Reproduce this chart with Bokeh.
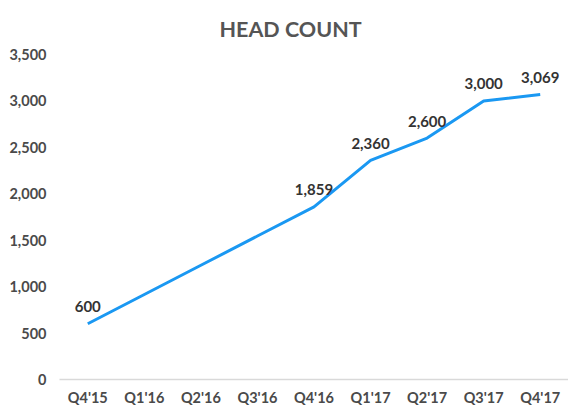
from bokeh.plotting import figure
from bokeh.models import FactorRange, Range1d, ColumnDataSource, NumeralTickFormatter, FixedTicker, LabelSet
from bokeh.core.properties import value
from bokeh.embed import file_html
from bokeh.resources import INLINE

title_text = "HEAD COUNT"
quarters = ["Q4'15", "Q1'16", "Q2'16", "Q3'16", "Q4'16", "Q1'17", "Q2'17", "Q3'17", "Q4'17"]
head_count = [600, 915, 1230, 1545, 1859, 2360, 2600, 3000, 3069]
labels = ["600", "", "", "", "1,859", "2,360", "2,600", "3,000", "3,069"]
y_ticks = [0, 500, 1000, 1500, 2000, 2500, 3000, 3500]

src = ColumnDataSource(dict(q=quarters, v=head_count, t=labels))

p = figure(frame_width=509, frame_height=325, x_range=FactorRange(*quarters, range_padding=0),
           y_range=Range1d(0, 3500), output_backend="svg", toolbar_location=None,
           title=title_text, min_border_left=59, min_border_right=0,
           min_border_top=0, min_border_bottom=0)
p.title.align = "left"
p.title.offset = 160
p.title.standoff = 26
p.title.text_font = "Lato"
p.title.text_font_size = "21.5px"
p.title.text_font_style = "bold"
p.title.text_color = "#555555"

p.outline_line_color = None
p.xgrid.grid_line_color = None
p.ygrid.grid_line_color = None
p.background_fill_color = "white"
p.border_fill_color = "white"

p.yaxis.ticker = FixedTicker(ticks=y_ticks)
p.yaxis.formatter = NumeralTickFormatter(format="0,0")
p.yaxis.axis_line_color = None
p.yaxis.major_tick_line_color = None
p.yaxis.minor_tick_line_color = None
p.yaxis.major_label_standoff = 7
p.xaxis.axis_line_color = "#d9d9d9"
p.xaxis.axis_line_width = 1.5
p.xaxis.major_tick_line_color = None
p.xaxis.minor_tick_line_color = None
p.xaxis.major_label_standoff = 3
for ax in (p.xaxis, p.yaxis):
    ax.major_label_text_font = "Lato"
    ax.major_label_text_font_style = "bold"
    ax.major_label_text_font_size = "14.5px"
    ax.major_label_text_color = "#4a4a4a"

p.line("q", "v", source=src, line_color="#1a98f2", line_width=3)

lbl = LabelSet(x="q", y="v", text="t", source=src, text_align="center", text_baseline="middle",
               y_offset=17, text_font=value("Lato"), text_font_style="bold",
               text_font_size="15px", text_color="#333333")
p.add_layout(lbl)

open("out.html", "w").write(file_html(p, INLINE))
